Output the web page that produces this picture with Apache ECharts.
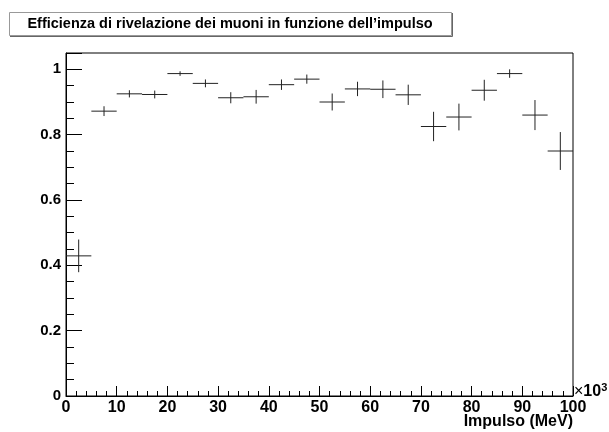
<!DOCTYPE html>
<html>
<head>
<meta charset="utf-8">
<script src="https://cdn.jsdelivr.net/npm/echarts@6/dist/echarts.min.js"></script>
<style>html,body{margin:0;padding:0;background:#fff}#c{width:609px;height:432px}</style>
</head>
<body>
<div id="c"></div>
<script>
// Data (x in units of 10^3 MeV)
const binCenters = [2.5, 7.5, 12.5, 17.5, 22.5, 27.5, 32.5, 37.5, 42.5, 47.5, 52.5, 57.5, 62.5, 67.5, 72.5, 77.5, 82.5, 87.5, 92.5, 97.5];
const efficiency = [0.429, 0.872, 0.925, 0.923, 0.987, 0.957, 0.913, 0.916, 0.953, 0.970, 0.900, 0.940, 0.939, 0.922, 0.825, 0.854, 0.936, 0.987, 0.860, 0.750];
const errors = [0.050, 0.015, 0.011, 0.012, 0.007, 0.012, 0.017, 0.021, 0.016, 0.014, 0.026, 0.022, 0.027, 0.031, 0.045, 0.041, 0.032, 0.013, 0.046, 0.058];
const binWidth = 5;
const xTicks = [0, 10, 20, 30, 40, 50, 60, 70, 80, 90, 100];
const yTicks = [0, 0.2, 0.4, 0.6, 0.8, 1];
const titleText = 'Efficienza di rivelazione dei muoni in funzione dell\u2019impulso';
const xTitle = 'Impulso (MeV)';

const FONT = '"Liberation Sans", Arial, Helvetica, sans-serif';
const chart = echarts.init(document.getElementById('c'), null, {renderer: 'canvas'});

const data = binCenters.map((x, i) => [x, efficiency[i], errors[i]]);

chart.setOption({
  animation: false,
  backgroundColor: '#fff',
  grid: {left: 66, right: 36, top: 53, bottom: 36, show: true, borderColor: '#000', borderWidth: 1, backgroundColor: 'transparent'},
  xAxis: {
    type: 'value', min: 0, max: 100, interval: 10,
    axisLine: {show: true, lineStyle: {color: '#000', width: 1}},
    axisTick: {show: true, inside: true, length: 10, lineStyle: {color: '#000'}},
    minorTick: {show: true, splitNumber: 5, length: 5, lineStyle: {color: '#000'}},
    splitLine: {show: false},
    axisLabel: {
      color: '#000', fontFamily: FONT, fontWeight: 'bold', fontSize: 16, margin: 4,
      formatter: v => xTicks.indexOf(v) >= 0 ? String(v) : ''
    }
  },
  yAxis: {
    type: 'value', min: 0, max: 1.05, interval: 0.2,
    axisLine: {show: true, lineStyle: {color: '#000', width: 1}},
    axisTick: {show: true, inside: true, length: 16, lineStyle: {color: '#000'}},
    minorTick: {show: true, splitNumber: 4, length: 8, lineStyle: {color: '#000'}},
    splitLine: {show: false},
    axisLabel: {
      color: '#000', fontFamily: FONT, fontWeight: 'bold', fontSize: 15, margin: 5,
      formatter: v => {
        const m = yTicks.find(t => Math.abs(t - v) < 1e-6);
        return m === undefined ? '' : String(m);
      }
    }
  },
  series: [{
    type: 'custom',
    data: data,
    renderItem: (params, api) => {
      const x = api.value(0), y = api.value(1), e = api.value(2);
      const pL = api.coord([x - binWidth / 2, y]);
      const pR = api.coord([x + binWidth / 2, y]);
      const pT = api.coord([x, y + e]);
      const pB = api.coord([x, y - e]);
      const style = {stroke: '#222', lineWidth: 1};
      return {
        type: 'group',
        children: [
          {type: 'line', shape: {x1: pL[0], y1: pL[1], x2: pR[0], y2: pR[1]}, style: style},
          {type: 'line', shape: {x1: pT[0], y1: pT[1], x2: pB[0], y2: pB[1]}, style: style}
        ]
      };
    }
  }],
  graphic: [
    {type: 'rect', shape: {x: 9.5, y: 12.5, width: 442, height: 23}, style: {fill: '#fff', stroke: '#999', lineWidth: 1}, z: 10},
    {type: 'polyline', shape: {points: [[452.5, 13], [452.5, 36.5], [10, 36.5]]}, style: {stroke: '#666', lineWidth: 1, fill: null}, z: 11},
    {type: 'text', x: 230, y: 24, style: {text: titleText, fill: '#000', font: 'bold 14.5px ' + FONT, textAlign: 'center', textVerticalAlign: 'middle'}, z: 11},
    {type: 'text', x: 574, y: 392, style: {
      text: '{a|\u00d7}{b|10}{c|3}', textVerticalAlign: 'middle',
      rich: {
        a: {fontFamily: FONT, fontSize: 16, fill: '#000', fontWeight: 'normal'},
        b: {fontFamily: FONT, fontSize: 16, fill: '#000', fontWeight: 'bold'},
        c: {fontFamily: FONT, fontSize: 11, fill: '#000', fontWeight: 'bold', verticalAlign: 'top', padding: [0, 0, 8, 0]}
      }
    }, z: 11},
    {type: 'text', x: 573, y: 422, style: {text: xTitle, fill: '#000', font: 'bold 16px ' + FONT, textAlign: 'right', textVerticalAlign: 'middle'}, z: 11}
  ]
});
</script>
</body>
</html>
